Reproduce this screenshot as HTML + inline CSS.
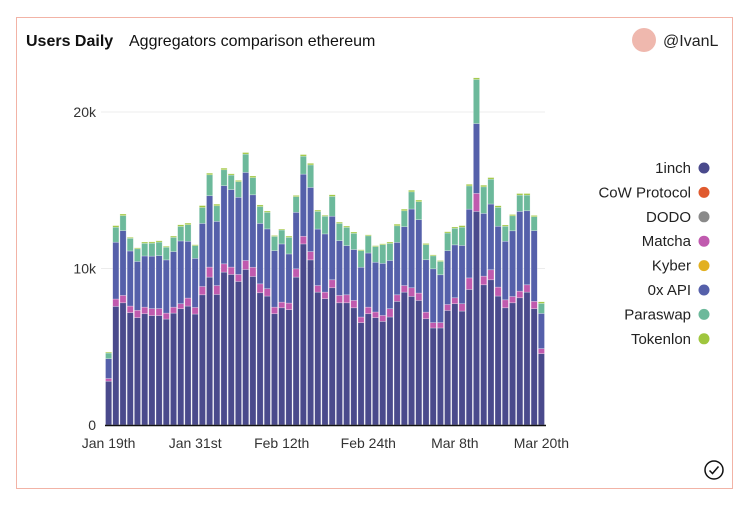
<!DOCTYPE html>
<html><head><meta charset="utf-8"><style>
body{margin:0;background:#fff;font-family:"Liberation Sans",sans-serif;}
#card{position:absolute;left:16px;top:17px;width:717px;height:472px;border:1px solid #f2b3a6;box-sizing:border-box;}
</style></head><body>
<div id="card"></div>
<svg width="749" height="507" style="position:absolute;left:0;top:0">
<text x="26" y="46" font-size="16" font-weight="bold" fill="#111">Users Daily</text>
<text x="129" y="46" font-size="16" fill="#111">Aggregators comparison ethereum</text>
<circle cx="644" cy="40" r="12" fill="#efb8ae"/>
<text x="663" y="46" font-size="16" fill="#222">@IvanL</text>
<g id="grid"></g><g id="bars"></g><g id="axes"></g><g id="legend"></g>
<circle cx="714" cy="470" r="9" fill="none" stroke="#111" stroke-width="1.5"/>
<path d="M709.5 470.5 L712.5 473.5 L718.5 466.5" fill="none" stroke="#111" stroke-width="1.5"/>
</svg>
<script>
const categories=["Jan 19th","Jan 31st","Feb 12th","Feb 24th","Mar 8th","Mar 20th"];
const yTicks=[0,10,20];
const yTickLabels=["0","10k","20k"];
const seriesNames=["1inch","CoW Protocol","DODO","Matcha","Kyber","0x API","Paraswap","Tokenlon"];
const seriesColors=["#4a4a8c","#e05a2e","#8a8a8a","#c05aae","#e2b021","#5560aa","#6cb99b","#9fc63e"];
const inch=[2.8,7.58,7.81,7.18,6.86,7.11,6.99,6.99,6.77,7.15,7.43,7.6,7.09,8.32,9.45,8.34,9.77,9.62,9.17,9.94,9.49,8.45,8.24,7.11,7.49,7.37,9.45,11.57,10.55,8.49,8.07,8.77,7.81,7.81,7.49,6.54,7.11,6.86,6.62,6.9,7.9,8.49,8.22,7.96,6.79,6.2,6.2,7.32,7.75,7.28,8.66,13.65,8.96,9.28,8.24,7.49,7.81,8.13,8.49,7.43,4.56];
const matcha=[.17,.47,.47,.42,.47,.42,.45,.45,.38,.38,.32,.51,.42,.53,.64,.57,.53,.47,.45,.57,.59,.57,.47,.42,.36,.42,.53,.49,.53,.42,.42,.51,.47,.51,.47,.36,.42,.36,.38,.53,.42,.42,.55,.47,.42,.34,.34,.38,.38,.47,.74,1.15,.55,.64,.57,.51,.4,.42,.47,.47,.32];
const zerox=[1.27,3.63,4.14,3.52,3.12,3.27,3.35,3.38,3.4,3.55,4.01,3.63,3.14,4.03,4.56,4.1,4.99,4.95,4.93,5.63,4.63,3.86,3.82,3.61,3.72,3.14,3.61,3.97,4.1,3.61,3.72,4.06,3.5,3.14,3.25,3.18,3.46,3.18,3.33,3.08,3.35,3.76,5.03,4.69,3.35,3.44,3.06,3.44,3.38,3.72,4.39,4.46,4.01,4.2,3.89,3.74,4.2,5.1,4.73,4.52,2.25];
const paraswap=[.36,.96,.96,.81,.81,.81,.83,.87,.81,.91,.93,1.06,.81,1.02,1.34,1.0,1.02,.93,1.0,1.17,1.1,1.08,1.06,.91,.89,1.06,1.0,1.15,1.44,1.13,1.13,1.27,1.1,1.17,1.04,1.06,1.1,1.0,1.19,1.1,1.06,1.02,1.1,1.15,.96,.83,.85,1.13,1.06,1.17,1.49,2.82,1.7,1.59,1.21,.96,.96,1.04,1.0,.89,.64];
const tokenlon=[.06,.1,.1,.06,.06,.08,.08,.08,.06,.08,.1,.1,.06,.12,.1,.1,.1,.08,.08,.1,.1,.1,.08,.06,.06,.08,.08,.1,.1,.08,.06,.1,.08,.08,.08,.06,.06,.06,.06,.08,.1,.1,.1,.1,.08,.06,.06,.08,.08,.1,.1,.1,.1,.1,.1,.08,.08,.1,.1,.08,.1];
const stackOrder=[[inch,0],[matcha,3],[zerox,5],[paraswap,6],[tokenlon,7]];
const NS="http://www.w3.org/2000/svg";
const X0=105,X1=545,Y0=425,PPK=15.65,N=inch.length,STEP=(X1-X0)/N;
const y=v=>Y0-v*PPK;
const x=i=>X0+i*STEP;
function mk(t,a,p){const e=document.createElementNS(NS,t);for(const k in a)e.setAttribute(k,a[k]);p.appendChild(e);return e;}
const grid=document.getElementById('grid'),bars=document.getElementById('bars'),axes=document.getElementById('axes'),leg=document.getElementById('legend');
yTicks.forEach((t,i)=>{
  if(t>0){const l=mk('line',{x1:X0-4,x2:X1,y1:y(t),y2:y(t),stroke:'#ececec'},grid);
  
  }
  const tx=mk('text',{x:96,y:y(t)+5,'font-size':14,'text-anchor':'end',fill:'#333'},axes);tx.textContent=yTickLabels[i];
  
  
});
for(let i=0;i<N;i++){
  let acc=0;
  stackOrder.forEach(([arr,ci])=>{
    const v=arr[i];
    const r=mk('rect',{x:x(i)+0.5,y:y(acc+v),width:STEP-1,height:v*PPK,fill:seriesColors[ci],stroke:'rgba(255,255,255,0.45)','stroke-width':0.6},bars);
    
    
    acc+=v;
  });
}
mk('line',{x1:X0,x2:X1+1,y1:Y0+0.5,y2:Y0+0.5,stroke:'#111','stroke-width':1.5},axes);
categories.forEach((c,i)=>{
  const cx=x(0)+STEP/2+i*12*STEP;
  const t=mk('text',{x:cx,y:448,'font-size':14,'text-anchor':'middle',fill:'#333'},axes);t.textContent=c;
  
  
});
seriesNames.forEach((n,i)=>{
  const yy=168+i*24.4;
  const t=mk('text',{x:691,y:yy+5,'font-size':15,'text-anchor':'end',fill:'#222'},leg);t.textContent=n;
  
  
  const c=mk('circle',{cx:704,cy:yy,r:5.5,fill:seriesColors[i]},leg);
  
  
});
</script>
</body></html>
